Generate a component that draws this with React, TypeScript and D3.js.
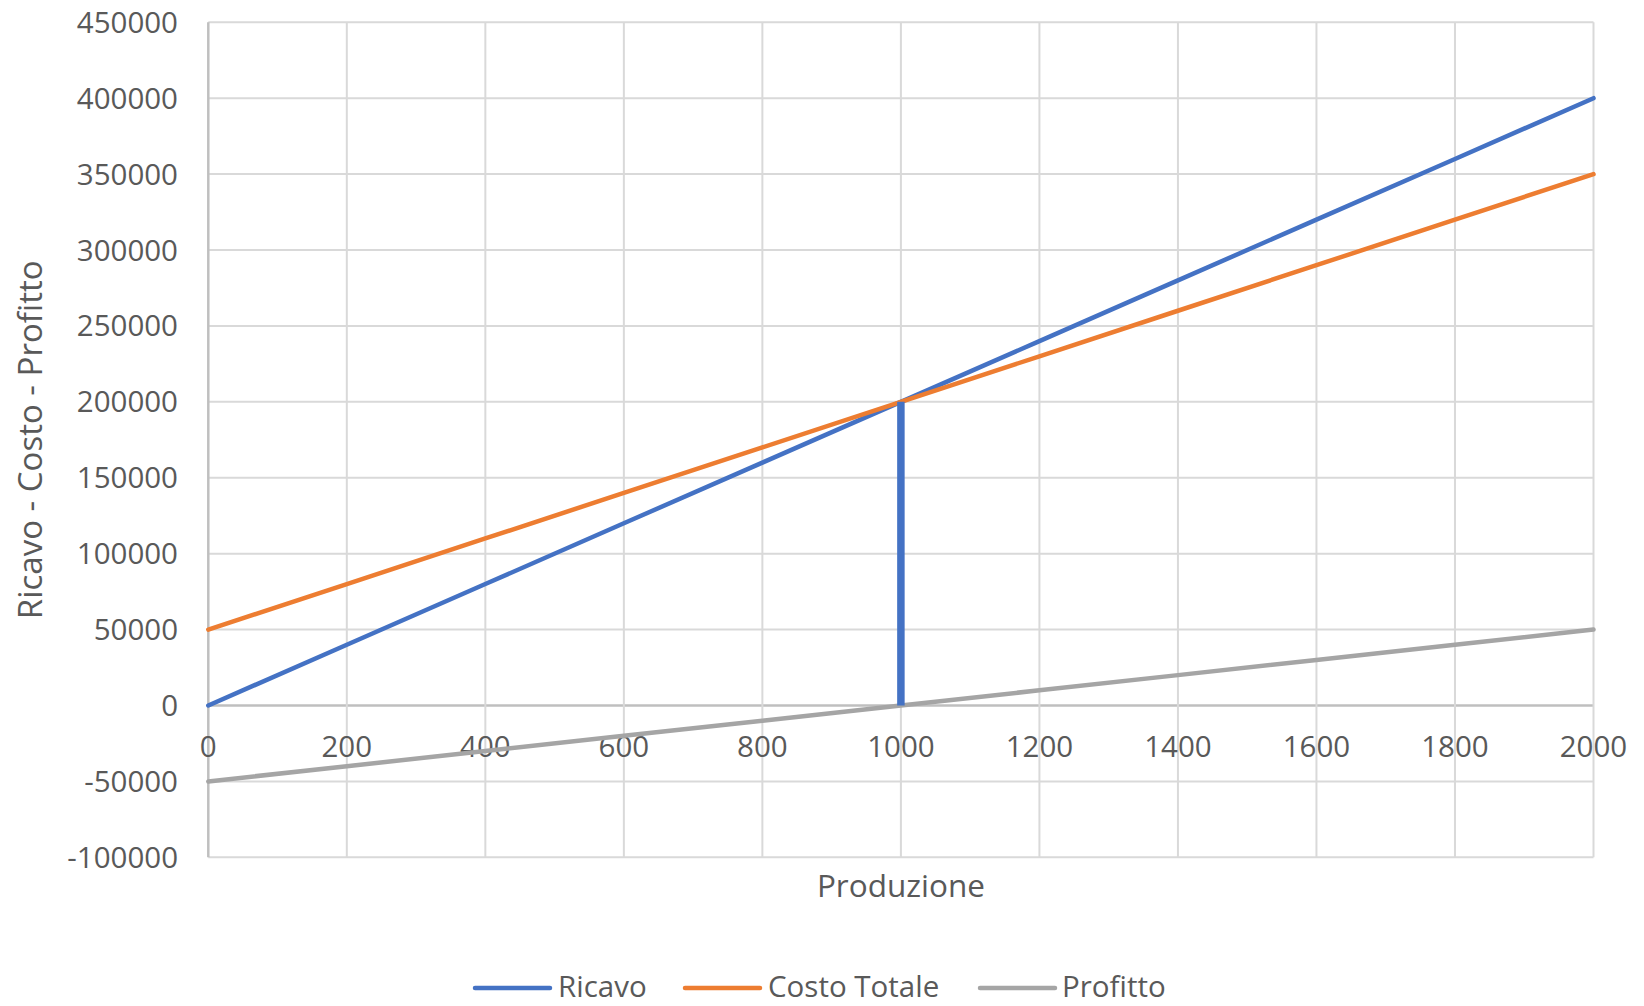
import React from "react";
import * as d3 from "d3";

const produzione = [0, 200, 400, 600, 800, 1000, 1200, 1400, 1600, 1800, 2000];
const ricavo = [0, 40000, 80000, 120000, 160000, 200000, 240000, 280000, 320000, 360000, 400000];
const costoTotale = [50000, 80000, 110000, 140000, 170000, 200000, 230000, 260000, 290000, 320000, 350000];
const profitto = [-50000, -40000, -30000, -20000, -10000, 0, 10000, 20000, 30000, 40000, 50000];
const pareggioX = [1000, 1000];
const pareggioY = [0, 200000];
const yTicks = [-100000, -50000, 0, 50000, 100000, 150000, 200000, 250000, 300000, 350000, 400000, 450000];
const xTicks = [0, 200, 400, 600, 800, 1000, 1200, 1400, 1600, 1800, 2000];
const seriesNames = ["Ricavo", "Costo Totale", "Profitto"];
const seriesColors = ["#4472C4", "#ED7D31", "#A5A5A5"];
const xTitle = "Produzione";
const yTitle = "Ricavo - Costo - Profitto";

const W = 1644;
const H = 1006;
const FONT = "'Open Sans', 'Noto Sans', sans-serif";
const TEXT = "#595959";

export default function App() {
  const x = d3.scaleLinear().domain([0, 2000]).range([208.3, 1593.5]);
  const y = d3.scaleLinear().domain([-100000, 450000]).range([857.3, 22.3]);

  const line = d3
    .line<[number, number]>()
    .x((d) => x(d[0]))
    .y((d) => y(d[1]));

  const allSeries = [ricavo, costoTotale, profitto];

  const legendItems = [
    { lx: 475, tx: 558 },
    { lx: 685, tx: 768 },
    { lx: 980, tx: 1062 },
  ];

  return (
    <svg
      width={W}
      height={H}
      style={{ position: "absolute", left: 0, top: 0, background: "#fff" }}
    >
      <rect x={0} y={0} width={W} height={H} fill="#fff" />
      {yTicks.map((t) => (
        <line
          key={"hy" + t}
          x1={x(0)}
          x2={x(2000)}
          y1={y(t)}
          y2={y(t)}
          stroke={t === 0 ? "#bfbfbf" : "#d9d9d9"}
          strokeWidth={t === 0 ? 2.5 : 2}
        />
      ))}
      {xTicks.map((t) => (
        <line
          key={"vx" + t}
          x1={x(t)}
          x2={x(t)}
          y1={y(450000)}
          y2={y(-100000)}
          stroke={t === 0 ? "#bfbfbf" : "#d9d9d9"}
          strokeWidth={t === 0 ? 2.5 : 2}
        />
      ))}
      {yTicks.map((t) => (
        <text
          key={"ly" + t}
          x={178}
          y={y(t) + 10.5}
          textAnchor="end"
          fontFamily={FONT}
          fontSize={29.5}
          fill={TEXT}
        >
          {String(t)}
        </text>
      ))}
      {xTicks.map((t) => (
        <text
          key={"lx" + t}
          x={x(t)}
          y={y(0) + 52}
          textAnchor="middle"
          fontFamily={FONT}
          fontSize={29.5}
          fill={TEXT}
        >
          {String(t)}
        </text>
      ))}
      {allSeries.map((vals, i) => (
        <path
          key={"s" + i}
          d={line(produzione.map((p, j) => [p, vals[j]] as [number, number])) || ""}
          fill="none"
          stroke={seriesColors[i]}
          strokeWidth={4.5}
          strokeLinejoin="round"
          strokeLinecap="round"
        />
      ))}
      <path
        d={line(pareggioX.map((p, j) => [p, pareggioY[j]] as [number, number])) || ""}
        fill="none"
        stroke={seriesColors[0]}
        strokeWidth={7.5}
      />
      <text
        x={(x(0) + x(2000)) / 2}
        y={897}
        textAnchor="middle"
        fontFamily={FONT}
        fontSize={31.5}
        fill={TEXT}
      >
        {xTitle}
      </text>
      <text
        transform={`translate(42, ${(y(450000) + y(-100000)) / 2}) rotate(-90)`}
        textAnchor="middle"
        fontFamily={FONT}
        fontSize={33}
        fill={TEXT}
      >
        {yTitle}
      </text>
      {seriesNames.map((n, i) => (
        <g key={"lg" + n}>
          <line
            x1={legendItems[i].lx}
            x2={legendItems[i].lx + 75}
            y1={988}
            y2={988}
            stroke={seriesColors[i]}
            strokeWidth={4.5}
            strokeLinecap="round"
          />
          <text
            x={legendItems[i].tx}
            y={997}
            fontFamily={FONT}
            fontSize={29.5}
            fill={TEXT}
          >
            {n}
          </text>
        </g>
      ))}
    </svg>
  );
}
